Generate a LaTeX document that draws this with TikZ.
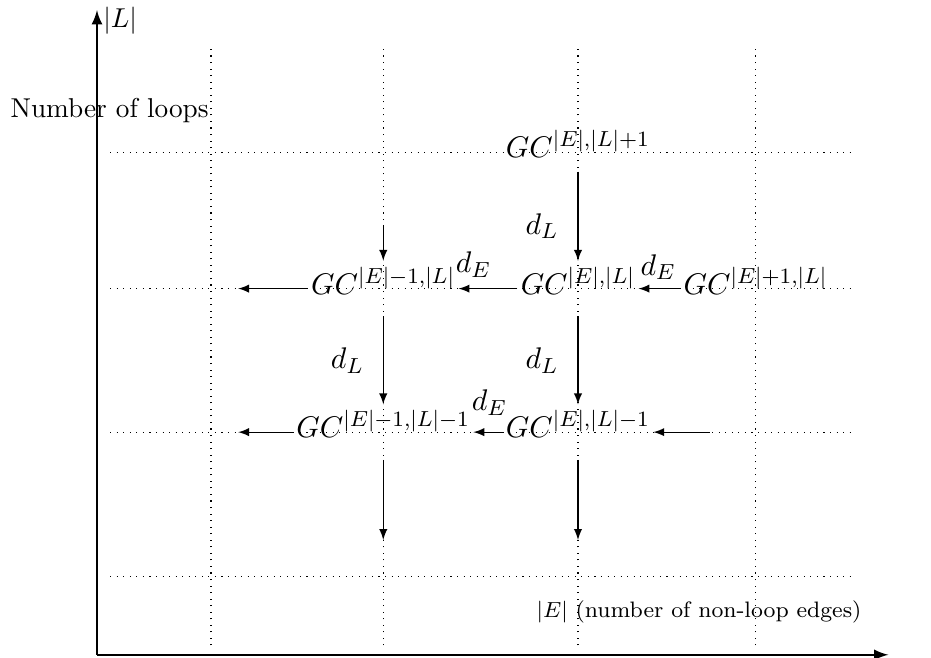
\documentclass[tikz,border=0pt]{standalone}
\usepackage{amsmath,amssymb}

\begin{document}
\begin{tikzpicture}[line width=0.4pt, >=latex,
  gc/.style={font=\fontsize{11}{13}\selectfont, inner sep=1pt, text height=11pt, text depth=7pt},
  dlab/.style={font=\fontsize{11}{13}\selectfont, inner sep=2pt}]
  \useasboundingbox (-1.25,-0.04) rectangle (10.75,8.44);
  % dotted grid
  \foreach \x in {1.47,3.69,6.20,8.49}
    \draw[dotted] (\x,0.12) -- (\x,7.86);
  \foreach \y in {1.01,2.87,4.72,6.48}
    \draw[dotted] (0.17,\y) -- (9.75,\y);
  % axes
  \draw[->, thick] (0,0) -- (10.2,0);
  \draw[->, thick] (0,0) -- (0,8.31);
  \node[anchor=west, inner sep=1pt] (laxis) at (0.04,8.17) {$|L|$};
  \node[anchor=west, inner sep=0pt] (lname) at (-1.12,7.02) {Number of loops};
  \node[anchor=east, font=\fontsize{8.2}{10}\selectfont, inner sep=0pt] (eaxis) at (9.86,0.55) {$|E|$ (number of non-loop edges)};
  % the complexes
  \node[gc] (gtop) at (6.20,6.48) {$GC^{|E|,|L|+1}$};
  \node[gc] (gml) at (3.69,4.72) {$GC^{|E|-1,|L|}$};
  \node[gc] (gmm) at (6.20,4.72) {$GC^{|E|,|L|}$};
  \node[gc] (gmr) at (8.49,4.72) {$GC^{|E|+1,|L|}$};
  \node[gc] (gbl) at (3.69,2.87) {$GC^{|E|-1,|L|-1}$};
  \node[gc] (gbm) at (6.20,2.87) {$GC^{|E|,|L|-1}$};
  % loose ends of the arrows
  \coordinate (mlout) at (1.82,4.72);
  \coordinate (blout) at (1.82,2.87);
  \coordinate (brin) at (7.90,2.87);
  \coordinate (lin) at (3.69,5.54);
  \coordinate (lout) at (3.69,1.48);
  \coordinate (mout) at (6.20,1.48);
  % d_L
  \draw[->] (lin) -- (gml.north);
  \draw[->, shorten <=-3pt] (gtop.south) -- node[dlab, pos=0.57, left=5pt] (dl1) {$d_L$} (gmm.north);
  \draw[->] (gml.south) -- node[dlab, left=5pt] (dl2) {$d_L$} (gbl.north);
  \draw[->] (gmm.south) -- node[dlab, left=5pt] (dl3) {$d_L$} (gbm.north);
  \draw[->] (gbl.south) -- (lout);
  \draw[->] (gbm.south) -- (mout);
  % d_E
  \draw[->] (gml.west) -- (mlout);
  \draw[->] (gmm.west) -- node[dlab, pos=0.75, above=2pt] (de1) {$d_E$} (gml.east);
  \draw[->] (gmr.west) -- node[dlab, pos=0.53, above=1pt] (de2) {$d_E$} (gmm.east);
  \draw[->] (gbl.west) -- (blout);
  \draw[->] (gbm.west) -- node[dlab, pos=0.45, above=4pt] (de3) {$d_E$} (gbl.east);
  \draw[->] (brin) -- (gbm.east);
\end{tikzpicture}
\end{document}
